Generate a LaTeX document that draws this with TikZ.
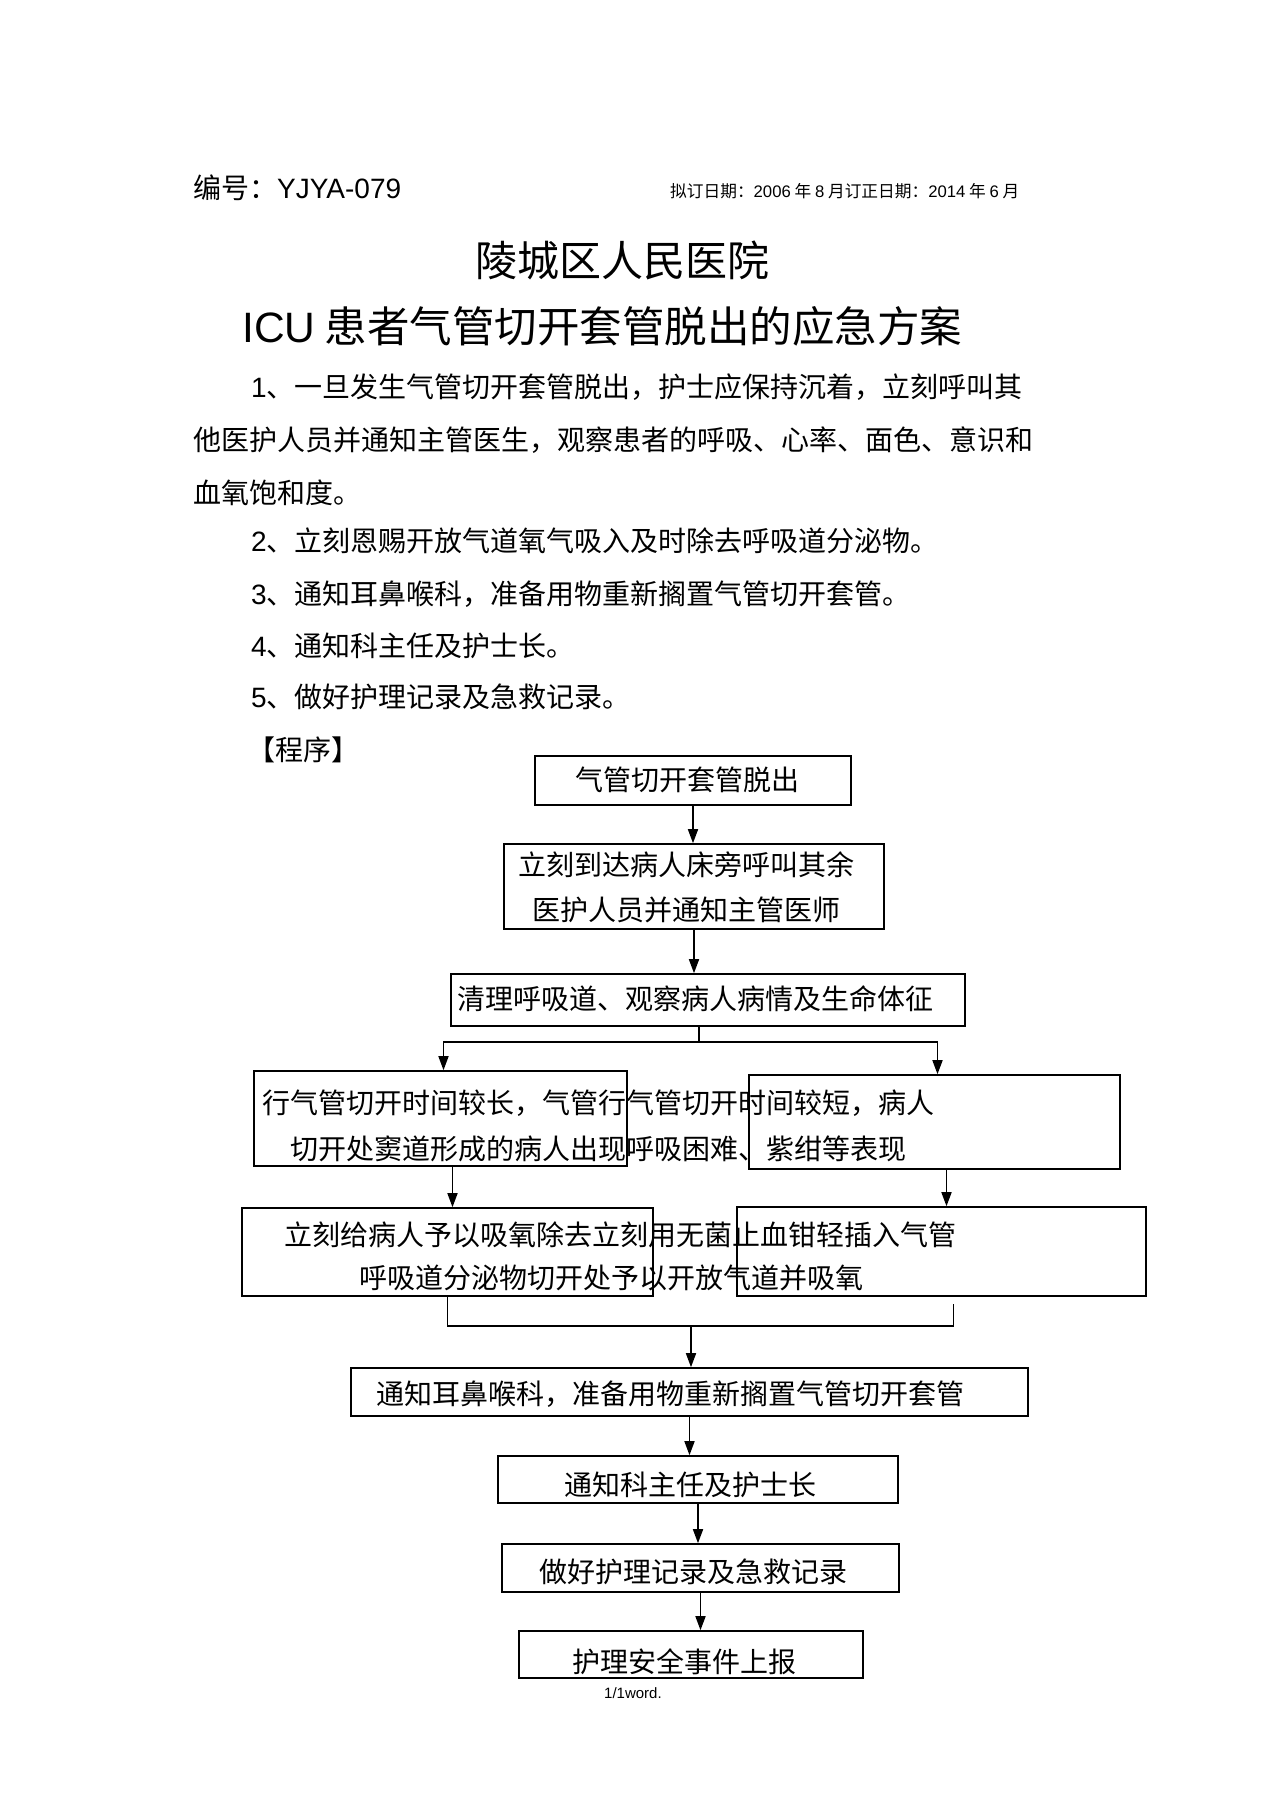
\documentclass[tikz,border=0pt]{standalone}
\usepackage{fontspec}
\setmainfont{Noto Sans CJK SC}
\newfontfamily\arialf{Liberation Sans}
\usetikzlibrary{arrows.meta}

\tikzset{
    box/.style={draw, line width=1.6pt, inner sep=0pt},
    txt/.style={anchor=west, inner sep=0pt, font=\fontsize{28}{28}\selectfont},
    para/.style={anchor=west, inner sep=0pt, font=\fontsize{28}{28}\selectfont},
    arr/.style={line width=1.6pt, -{Triangle[length=14pt,width=10pt]}},
}

\begin{document}
\begin{tikzpicture}[x=1pt, y=-1pt]
    \useasboundingbox[fill=white] (0,0) rectangle (1274,1804);

    % header and titles
    \node[anchor=west, inner sep=0pt, font=\fontsize{28}{28}\selectfont] (code) at (193,188) {编号：{\arialf YJYA-079}};
    \node[anchor=west, inner sep=0pt, font=\fontsize{16.7}{16.7}\selectfont] (date) at (670,191) {拟订日期：{\arialf 2006} 年 {\arialf 8} 月订正日期：{\arialf 2014} 年 {\arialf 6} 月};
    \node[inner sep=0pt, font=\fontsize{42}{42}\selectfont] (hosp) at (622,260) {陵城区人民医院};
    \node[anchor=west, inner sep=0pt, font=\fontsize{42.5}{42.5}\selectfont] (title) at (242,326) {{\arialf ICU} 患者气管切开套管脱出的应急方案};

    % numbered text
    \node[para] (p1) at (251,387) {{\arialf 1}、一旦发生气管切开套管脱出，护士应保持沉着，立刻呼叫其};
    \node[para] (p2) at (193,440) {他医护人员并通知主管医生，观察患者的呼吸、心率、面色、意识和};
    \node[para] (p3) at (193,493) {血氧饱和度。};
    \node[para] (p4) at (251,541) {{\arialf 2}、立刻恩赐开放气道氧气吸入及时除去呼吸道分泌物。};
    \node[para] (p5) at (251,594) {{\arialf 3}、通知耳鼻喉科，准备用物重新搁置气管切开套管。};
    \node[para] (p6) at (251,646) {{\arialf 4}、通知科主任及护士长。};
    \node[para] (p7) at (251,697) {{\arialf 5}、做好护理记录及急救记录。};
    \node[para] (p8) at (247,750) {【程序】};

    % boxes
    \node[box, minimum width=316pt, minimum height=49pt] (b1) at (693,780.5) {};
    \node[box, minimum width=380pt, minimum height=85pt] (b2) at (694,886.5) {};
    \node[box, minimum width=514pt, minimum height=52pt] (b3) at (708,1000) {};
    \node[box, minimum width=373pt, minimum height=95pt] (l1) at (440.5,1118.5) {};
    \node[box, minimum width=371pt, minimum height=94pt] (r1) at (934.5,1122) {};
    \node[box, minimum width=411pt, minimum height=88pt] (l2) at (447.5,1252) {};
    \node[box, minimum width=409pt, minimum height=89pt] (r2) at (941.5,1251.5) {};
    \node[box, minimum width=677pt, minimum height=48pt] (b4) at (689.5,1392) {};
    \node[box, minimum width=400pt, minimum height=47pt] (b5) at (698,1479.5) {};
    \node[box, minimum width=397pt, minimum height=48pt] (b6) at (700.5,1568) {};
    \node[box, minimum width=344pt, minimum height=47pt] (b7) at (691,1654.5) {};

    % box texts
    \node[txt] (t1) at (575,780) {气管切开套管脱出};
    \node[txt] (t2a) at (518,865) {立刻到达病人床旁呼叫其余};
    \node[txt] (t2b) at (532,910) {医护人员并通知主管医师};
    \node[txt] (t3) at (457,999) {清理呼吸道、观察病人病情及生命体征};
    \node[txt] (t4a) at (262,1103) {行气管切开时间较长，气管行气管切开时间较短，病人};
    \node[txt] (t4b) at (290,1149) {切开处窦道形成的病人出现呼吸困难、紫绀等表现};
    \node[txt] (t5a) at (284,1235) {立刻给病人予以吸氧除去立刻用无菌止血钳轻插入气管};
    \node[txt] (t5b) at (359,1278) {呼吸道分泌物切开处予以开放气道并吸氧};
    \node[txt] (t6) at (376,1394) {通知耳鼻喉科，准备用物重新搁置气管切开套管};
    \node[txt] (t7) at (564,1485) {通知科主任及护士长};
    \node[txt] (t8) at (539,1572) {做好护理记录及急救记录};
    \node[txt] (t9) at (572,1662) {护理安全事件上报};

    \node[anchor=west, inner sep=0pt, font=\arialf\fontsize{15}{15}\selectfont] (foot) at (604,1693) {1/1word.};

    % connectors
    \coordinate (split) at (699,1042);
    \coordinate (join) at (691,1326);
    \draw[arr] (b1.south) -- (b1.south |- b2.north);
    \draw[arr] (b2.south) -- (b2.south |- b3.north);
    \draw[line width=1.6pt] ([xshift=-9pt]b3.south) -- (split);
    \draw[arr] (split) -| ([xshift=3pt]l1.north);
    \draw[arr] (split) -| ([xshift=3pt]r1.north);
    \draw[arr] ([xshift=12pt]l1.south) -- ([xshift=12pt]l1.south |- l2.north);
    \draw[arr] ([xshift=12pt]r1.south) -- ([xshift=12pt]r1.south |- r2.north);
    \draw[line width=1.6pt] (l2.south) |- ([xshift=12pt]r2.south |- join) -- ([xshift=12pt,yshift=-7pt]r2.south);
    \draw[arr] (join) -- (join |- b4.north);
    \draw[arr] (b4.south) -- (b4.south |- b5.north);
    \draw[arr] (b5.south) -- (b5.south |- b6.north);
    \draw[arr] (b6.south) -- (b6.south |- b7.north);
\end{tikzpicture}
\end{document}
